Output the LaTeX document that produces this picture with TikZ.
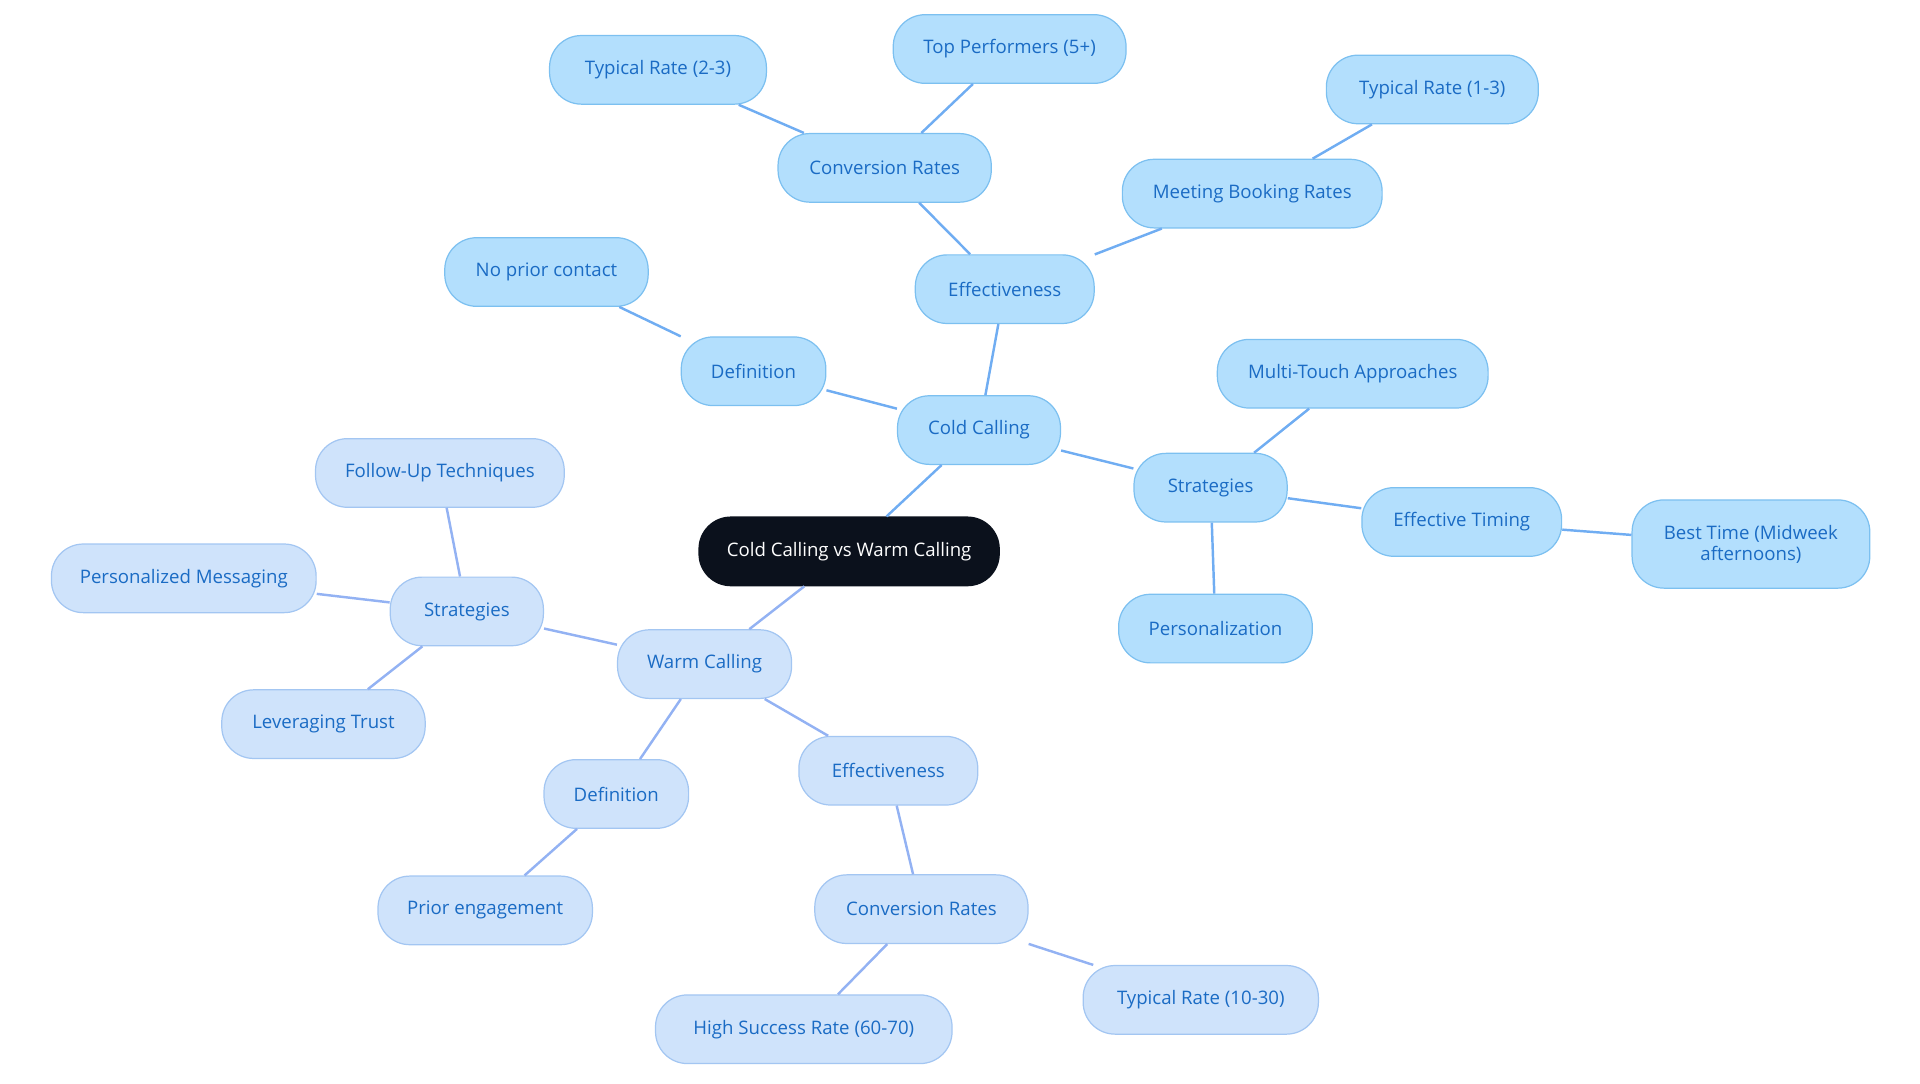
\documentclass[tikz,border=0pt]{standalone}
\usepackage{fontspec}
\setmainfont{Open Sans}
\definecolor{cf}{HTML}{B3DFFD}\definecolor{cb}{HTML}{7CC0F0}
\definecolor{wf}{HTML}{CFE3FB}\definecolor{wb}{HTML}{A3C6F2}
\definecolor{tx}{HTML}{1A6BC4}\definecolor{rt}{HTML}{0B111C}
\begin{document}
\begin{tikzpicture}[x=0.5pt,y=-0.5pt,
 b/.style={rounded corners=13pt,minimum height=28pt,font=\fontsize{7.6}{8.5}\selectfont,text=tx,align=center,line width=0.5pt,inner sep=2pt},
 c/.style={b,fill=cf,draw=cb},
 w/.style={b,fill=wf,draw=wb},
 cl/.style={draw=cb!90!blue,line width=1pt},
 wl/.style={draw=wb!90!blue,line width=1pt}]
\useasboundingbox (0,0) rectangle (1567,884);
\node[b,fill=rt,draw=rt,text=white,minimum width=122.5pt] (r) at (693,450) {Cold Calling vs Warm Calling};
\node[c,minimum width=66.5pt] (cc) at (799,351) {Cold Calling};
\node[w,minimum width=71pt] (wc) at (575,542) {Warm Calling};
\node[c,minimum width=59pt] (cd) at (615,303) {Definition};
\node[c,minimum width=83pt] (np) at (446,222) {No prior contact};
\node[c,minimum width=73pt] (ce) at (820,236) {Effectiveness};
\node[c,minimum width=87pt] (cr) at (722,137) {Conversion Rates};
\node[c,minimum width=88.5pt] (t23) at (537,57) {Typical Rate (2-3)};
\node[c,minimum width=95pt] (tp) at (824,40) {Top Performers (5+)};
\node[c,minimum width=106pt] (mb) at (1022,158) {Meeting Booking Rates};
\node[c,minimum width=86.5pt] (t13) at (1169,73) {Typical Rate (1-3)};
\node[c,minimum width=62.5pt] (cs) at (988,398) {Strategies};
\node[c,minimum width=110.5pt] (mt) at (1104,305) {Multi-Touch Approaches};
\node[c,minimum width=81.5pt] (et) at (1193,426) {Effective Timing};
\node[c,minimum width=97pt,minimum height=36pt] (bt) at (1429,444) {Best Time (Midweek\\afternoons)};
\node[c,minimum width=79pt] (pz) at (992,513) {Personalization};
\node[w,minimum width=62.5pt] (ws) at (381,499) {Strategies};
\node[w,minimum width=101.5pt] (fu) at (359,386) {Follow-Up Techniques};
\node[w,minimum width=108pt] (pm) at (150,472) {Personalized Messaging};
\node[w,minimum width=83pt] (lt) at (264,591) {Leveraging Trust};
\node[w,minimum width=59pt] (wd) at (503,648) {Definition};
\node[w,minimum width=87.5pt] (pe) at (396,743) {Prior engagement};
\node[w,minimum width=73pt] (we) at (725,629) {Effectiveness};
\node[w,minimum width=87pt] (wr) at (752,742) {Conversion Rates};
\node[w,minimum width=121pt] (hs) at (656,840) {High Success Rate (60-70)};
\node[w,minimum width=96pt] (t30) at (980,816) {Typical Rate (10-30)};
\begin{scope}[on background layer/.style={}]
\end{scope}
\draw[cl] (r) -- (cc); \draw[wl] (r) -- (wc);
\draw[cl] (cc) -- (cd); \draw[cl] (cd) -- (np);
\draw[cl] (cc) -- (ce); \draw[cl] (ce) -- (cr); \draw[cl] (cr) -- (t23); \draw[cl] (cr) -- (tp);
\draw[cl] (ce) -- (mb); \draw[cl] (mb) -- (t13);
\draw[cl] (cc) -- (cs); \draw[cl] (cs) -- (mt); \draw[cl] (cs) -- (et); \draw[cl] (et) -- (bt); \draw[cl] (cs) -- (pz);
\draw[wl] (wc) -- (ws); \draw[wl] (ws) -- (fu); \draw[wl] (ws) -- (pm); \draw[wl] (ws) -- (lt);
\draw[wl] (wc) -- (wd); \draw[wl] (wd) -- (pe);
\draw[wl] (wc) -- (we); \draw[wl] (we) -- (wr); \draw[wl] (wr) -- (hs); \draw[wl] (wr) -- (t30);
\end{tikzpicture}
\end{document}
